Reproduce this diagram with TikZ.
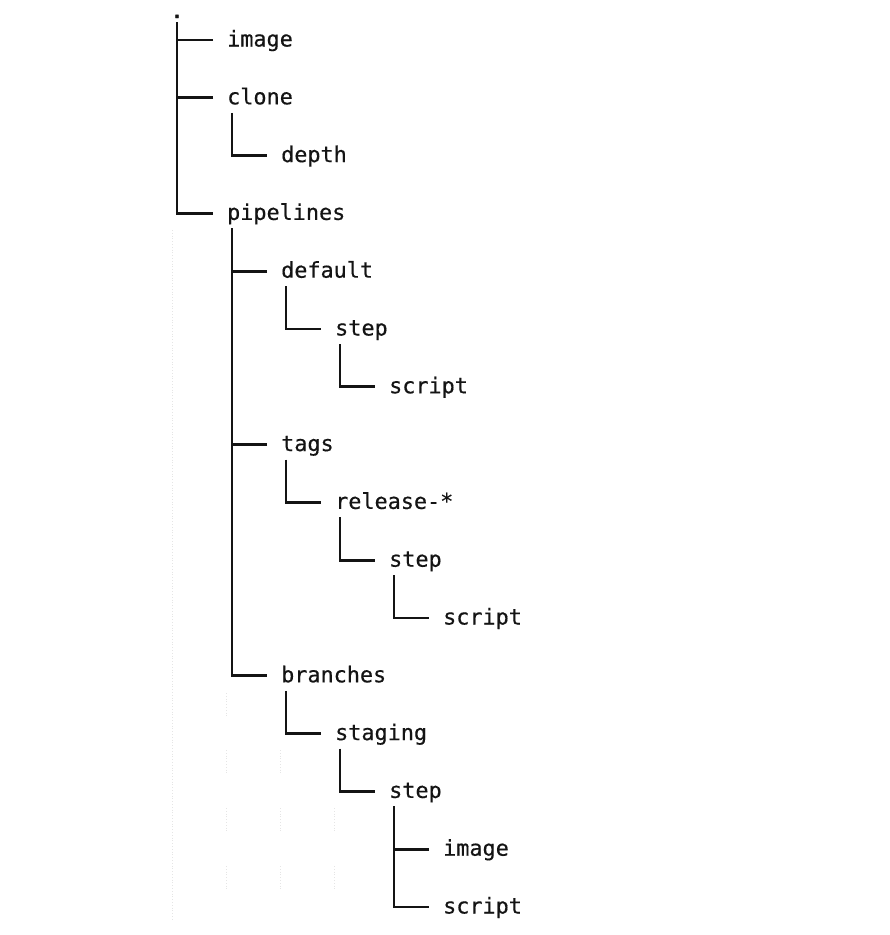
\documentclass[tikz,border=0pt]{standalone}
\usepackage{fontspec}
\newfontfamily\treemono[FakeBold=0.4]{DejaVu Sans Mono}
\newfontfamily\treedot[FakeBold=2]{DejaVu Sans Mono}
\begin{document}
\begin{tikzpicture}[x=1pt,y=-1pt,
  item/.style={font=\treemono\fontsize{21.8}{26}\selectfont, anchor=base west, inner sep=0pt, text=black!92},
  branch/.style={line width=2.8pt, draw=black!92},
  guide/.style={line width=0.8pt, draw=black!10, dotted}]
\useasboundingbox (0,0) rectangle (890,935);
% guide lines (faint)
\draw[guide] (172,230) -- (172,920);
\foreach \y in {693,750,808,866} \draw[guide] (226,\y) -- ++(0,25);
\foreach \y in {750,808,866} \draw[guide] (280,\y) -- ++(0,25);
\foreach \y in {808,866} \draw[guide] (334,\y) -- ++(0,25);
% nodes (baseline = connector height + 6.5)
\node[item, anchor=base, font=\treedot\fontsize{21.8}{26}\selectfont] (root) at (177,18) {.};
\node[item] (n1) at (227,46.5) {image};
\node[item] (n2) at (227,104.3) {clone};
\node[item] (n3) at (281,162.1) {depth};
\node[item] (n4) at (227,219.9) {pipelines};
\node[item] (n5) at (281,277.7) {default};
\node[item] (n6) at (335,335.5) {step};
\node[item] (n7) at (389,393.3) {script};
\node[item] (n8) at (281,451.1) {tags};
\node[item] (n9) at (335,508.9) {release-*};
\node[item] (n10) at (389,566.7) {step};
\node[item] (n11) at (443,624.5) {script};
\node[item] (n12) at (281,682.3) {branches};
\node[item] (n13) at (335,740.1) {staging};
\node[item] (n14) at (389,797.9) {step};
\node[item] (n15) at (443,855.7) {image};
\node[item] (n16) at (443,913.5) {script};
% connectors
\draw[branch] ([yshift=-6pt]root.center) |- ([xshift=-14pt,yshift=6.5pt]n4.base west);
\draw[branch] ([xshift=-14pt,yshift=6.5pt]n1.base west) -- ([xshift=-50pt,yshift=6.5pt]n1.base west);
\draw[branch] ([xshift=-14pt,yshift=6.5pt]n2.base west) -- ([xshift=-50pt,yshift=6.5pt]n2.base west);
\draw[branch] ([xshift=5pt,yshift=-8.5pt]n2.base west) |- ([xshift=-14pt,yshift=6.5pt]n3.base west);
\draw[branch] ([xshift=5pt,yshift=-8.5pt]n4.base west) |- ([xshift=-14pt,yshift=6.5pt]n12.base west);
\draw[branch] ([xshift=-14pt,yshift=6.5pt]n5.base west) -- ([xshift=-49pt,yshift=6.5pt]n5.base west);
\draw[branch] ([xshift=-14pt,yshift=6.5pt]n8.base west) -- ([xshift=-49pt,yshift=6.5pt]n8.base west);
\draw[branch] ([xshift=5pt,yshift=-8.5pt]n5.base west) |- ([xshift=-14pt,yshift=6.5pt]n6.base west);
\draw[branch] ([xshift=5pt,yshift=-8.5pt]n6.base west) |- ([xshift=-14pt,yshift=6.5pt]n7.base west);
\draw[branch] ([xshift=5pt,yshift=-8.5pt]n8.base west) |- ([xshift=-14pt,yshift=6.5pt]n9.base west);
\draw[branch] ([xshift=5pt,yshift=-8.5pt]n9.base west) |- ([xshift=-14pt,yshift=6.5pt]n10.base west);
\draw[branch] ([xshift=5pt,yshift=-8.5pt]n10.base west) |- ([xshift=-14pt,yshift=6.5pt]n11.base west);
\draw[branch] ([xshift=5pt,yshift=-8.5pt]n12.base west) |- ([xshift=-14pt,yshift=6.5pt]n13.base west);
\draw[branch] ([xshift=5pt,yshift=-8.5pt]n13.base west) |- ([xshift=-14pt,yshift=6.5pt]n14.base west);
\draw[branch] ([xshift=5pt,yshift=-8.5pt]n14.base west) |- ([xshift=-14pt,yshift=6.5pt]n16.base west);
\draw[branch] ([xshift=-14pt,yshift=6.5pt]n15.base west) -- ([xshift=-49pt,yshift=6.5pt]n15.base west);
\end{tikzpicture}
\end{document}
